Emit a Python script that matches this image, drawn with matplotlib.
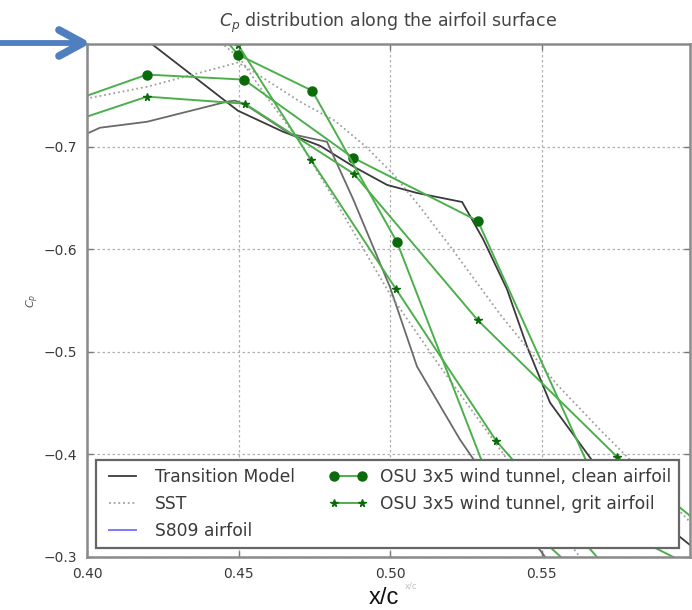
import matplotlib
matplotlib.use("Agg")
import matplotlib.pyplot as plt
from matplotlib.lines import Line2D

# ---------------- data ----------------
# Transition model, first branch (enters from the top)
trans1_x = [0.410, 0.4498, 0.4647, 0.4769, 0.4881, 0.4990, 0.5089, 0.5238, 0.5307,
            0.5386, 0.5452, 0.5528, 0.5670, 0.5825, 0.5990, 0.620]
trans1_cp = [-0.826, -0.7350, -0.7145, -0.7008, -0.6803, -0.6627, -0.6548, -0.6460, -0.6099,
             -0.5610, -0.5053, -0.4505, -0.3929, -0.3508, -0.3117, -0.270]
# Transition model, second branch (enters from the left)
trans2_x = [0.3950, 0.4043, 0.4198, 0.4462, 0.4488, 0.4518, 0.4670, 0.4792, 0.4878,
            0.5000, 0.5089, 0.5231, 0.5281, 0.5396, 0.5512, 0.5627]
trans2_cp = [-0.706, -0.7184, -0.7242, -0.7438, -0.7448, -0.7418, -0.7125, -0.7047, -0.6490,
             -0.5630, -0.4857, -0.4144, -0.3929, -0.3459, -0.3000, -0.258]

# SST
sst1_x = [0.395, 0.4201, 0.4498, 0.4554, 0.4703, 0.4818, 0.4917, 0.5010, 0.5099, 0.5198,
          0.5363, 0.5551, 0.5693, 0.5825, 0.5990, 0.6122]
sst1_cp = [-0.744, -0.7585, -0.7819, -0.7721, -0.7438, -0.7252, -0.7008, -0.6734, -0.6412, -0.6030,
           -0.5366, -0.4681, -0.4241, -0.3850, -0.3342, -0.297]
sst2_x = [0.4406, 0.4505, 0.4597, 0.4693, 0.4835, 0.5000, 0.5165, 0.5340, 0.5495, 0.5627, 0.5759]
sst2_cp = [-0.8103, -0.7858, -0.7467, -0.7086, -0.6392, -0.5561, -0.4857, -0.4144, -0.3508, -0.3000, -0.248]

# OSU 3x5 wind tunnel, clean airfoil (two tap rows)
clean1_x = [0.385, 0.4198, 0.4518, 0.4878, 0.5290, 0.5749, 0.620]
clean1_cp = [-0.734, -0.7702, -0.7653, -0.6891, -0.6275, -0.3274, -0.261]
clean2_x = [0.4399, 0.4498, 0.4743, 0.5023, 0.5350, 0.5749]
clean2_cp = [-0.8249, -0.7897, -0.7545, -0.6069, -0.3577, -0.2501]

# OSU 3x5 wind tunnel, grit airfoil (two tap rows)
grit1_x = [0.385, 0.4198, 0.4521, 0.4881, 0.5290, 0.5749, 0.620]
grit1_cp = [-0.7145, -0.7487, -0.7418, -0.6734, -0.5307, -0.3978, -0.290]
grit2_x = [0.440, 0.4498, 0.4739, 0.5020, 0.5350, 0.5749]
grit2_cp = [-0.830, -0.7995, -0.6871, -0.5610, -0.4134, -0.2775]

x_ticks = [0.40, 0.45, 0.50, 0.55]
y_ticks = [-0.7, -0.6, -0.5, -0.4, -0.3]

# ---------------- figure ----------------
W, H = 692, 610
fig = plt.figure(figsize=(W / 100, H / 100), dpi=100)
ax = fig.add_axes([87 / W, (H - 557) / H, 603 / W, 513 / H])

trans_kw = dict(lw=1.3, solid_joinstyle="miter")
ax.plot(trans1_x, trans1_cp, color="#3a3a3a", label="Transition Model", **trans_kw)
ax.plot(trans2_x, trans2_cp, color="#6a6a6a", **trans_kw)

sst_kw = dict(color="#a0a0a0", lw=1.3, linestyle=(0, (1.0, 1.6)))
ax.plot(sst1_x, sst1_cp, label="SST", **sst_kw)
ax.plot(sst2_x, sst2_cp, **sst_kw)

ax.plot([], [], color="#7b7bff", lw=1.4, label="S809 airfoil")

green = "#4caf4c"
mk = "#0b6b0b"
clean_kw = dict(color=green, lw=1.4, marker="o", ms=6.5, mfc=mk, mec=mk)
grit_kw = dict(color=green, lw=1.4, marker="*", ms=5.5, mfc=mk, mec=mk)
ax.plot(clean1_x, clean1_cp, label="OSU 3x5 wind tunnel, clean airfoil", **clean_kw)
ax.plot(clean2_x, clean2_cp, **clean_kw)
ax.plot(grit1_x, grit1_cp, label="OSU 3x5 wind tunnel, grit airfoil", **grit_kw)
ax.plot(grit2_x, grit2_cp, **grit_kw)

ax.set_xlim(0.40, 0.599)
ax.set_ylim(-0.3, -0.80)
ax.set_xticks(x_ticks)
ax.set_yticks(y_ticks)
ax.set_xticklabels([f"{v:.2f}" for v in x_ticks])
ax.set_yticklabels([f"\u2212{abs(v):.1f}" for v in y_ticks])
ax.tick_params(direction="in", top=True, right=True, length=4, width=1,
               color="#777777", labelsize=10, labelcolor="#3a3a3a", pad=7)
ax.grid(True, linestyle=(0, (2, 2)), color="#b0b0b0", lw=0.9)
ax.set_axisbelow(True)
for sp in ax.spines.values():
    sp.set_color("#8a8a8a")
    sp.set_linewidth(1.8)

ax.set_title("$C_p$ distribution along the airfoil surface", fontsize=12.5,
             color="#444444", pad=12)
ax.set_ylabel("$C_p$", fontsize=8, color="#555555", labelpad=2)

leg = ax.legend(loc="lower left", bbox_to_anchor=(9 / 603, 9 / 513), borderaxespad=0,
                ncol=2, numpoints=2, fontsize=12.3, frameon=True, fancybox=False,
                framealpha=1.0, facecolor="white",
                handlelength=2.2, handletextpad=0.8, columnspacing=2.0,
                labelspacing=0.55, borderpad=0.45)
leg.get_frame().set_edgecolor("#666666")
leg.get_frame().set_linewidth(1.6)
for t in leg.get_texts():
    t.set_color("#3a3a3a")

# axis captions: small original one and the large one below it
fig.text(411 / W, 1 - 586 / H, "x/c", fontsize=6, color="#c0c0c0",
         ha="center", va="center")
fig.text(384 / W, 1 - 598 / H, "x/c", fontsize=17, color="#111111",
         ha="center", va="center", family="Liberation Sans")

# pointer arrow at the upper-left corner of the plot
blue = "#4f7fbf"
def fx(px):
    return px / W
def fy(py):
    return 1 - py / H
fig.add_artist(Line2D([fx(0), fx(82)], [fy(43), fy(43)], color=blue, lw=4.2,
                      solid_capstyle="butt"))
fig.add_artist(Line2D([fx(59), fx(83), fx(59)], [fy(30), fy(43), fy(56)], color=blue,
                      lw=5.5, solid_capstyle="round", solid_joinstyle="round"))

fig.savefig("out.png", dpi=100)
